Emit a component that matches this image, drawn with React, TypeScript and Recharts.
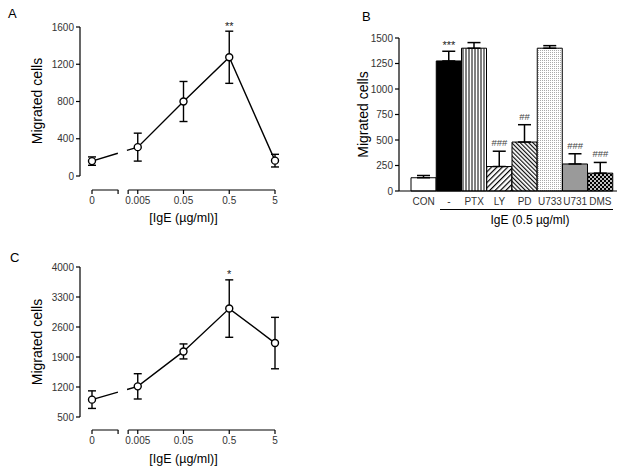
import React from 'react'
import { ComposedChart, Line, Bar, Cell, XAxis, YAxis, ErrorBar } from 'recharts'

// ─── Data ─────────────────────────────────────────────────────────────────────
const doses = ['0', '0.005', '0.05', '0.5', '5']

const migratedA = [160, 310, 800, 1275, 165]
const semA      = [45, 150, 215, 280, 68]
const marksA    = ['', '', '', '**', '']
const ticksA    = [0, 400, 800, 1200, 1600]

const treatments = ['CON', '-', 'PTX', 'LY', 'PD', 'U733', 'U731', 'DMS']
const migratedB  = [130, 1275, 1400, 240, 480, 1400, 265, 175]
const semB       = [22, 95, 55, 150, 170, 25, 100, 105]
const marksB     = ['', '***', '', '###', '##', '', '###', '###']
const ticksB     = [0, 250, 500, 750, 1000, 1250, 1500]

const migratedC = [905, 1215, 2030, 3030, 2225]
const semC      = [205, 295, 175, 670, 600]
const marksC    = ['', '', '', '*', '']
const ticksC    = [500, 1200, 1900, 2600, 3300, 4000]

// axis break on the dose axis (between 0 and 0.005)
const breakTicks = [0.57, 0.79]

// ─── Styles ───────────────────────────────────────────────────────────────────
const font = '"Liberation Sans", Arial, sans-serif'
const tickStyle = { fontSize: 10, fill: '#333' }
const barFills = ['#fff', '#000', 'url(#vlines)', 'url(#fwd)', 'url(#back)', 'url(#dots)', '#9a9a9a', 'url(#checks)']

const renderMark = (marks: string[], lift: number) => (props: any) => {
  const { x, y, index } = props
  const m = marks[index]
  if (!m) return null
  const star = m.startsWith('*')
  return (
    <text x={x} y={y - (star ? lift : lift + 3)} textAnchor="middle" fontSize={star ? 11 : 9.5} fill={star ? '#222' : '#444'}>{m}</text>
  )
}

// ─── Dose response line chart (A, C) ──────────────────────────────────────────
interface DoseProps {
  values: number[]; sem: number[]; marks: string[]; yTicks: number[]
  height: number; top: number; axisH: number; padBottom: number; yLen: number
  labelDy: number; xLabelOffset: number
}

function DoseChart({ values, sem, marks, yTicks, height, top, axisH, padBottom, yLen, labelDy, xLabelOffset }: DoseProps) {
  const data = doses.map((d, i) => ({ x: i, dose: d, mean: values[i], sem: sem[i], top: values[i] + sem[i] }))
  return (
    <ComposedChart width={320} height={height} data={data} margin={{ top, right: 45, bottom: 0, left: 20 }}>
      <XAxis
        type="number" dataKey="x" domain={[0, 4]} ticks={[0, ...breakTicks, 1, 2, 3, 4]} interval={0}
        padding={{ left: 12, right: 0 }} height={axisH}
        tickFormatter={(v: number) => (Number.isInteger(v) ? doses[v] : '')}
        tick={tickStyle} tickSize={4} tickMargin={3}
        axisLine={{ stroke: '#000', strokeWidth: 1.2, strokeDasharray: '0 12 26.3 10 400' }}
        tickLine={{ stroke: '#000', strokeWidth: 1.2 }}
        label={{ value: '[IgE (µg/ml)]', position: 'insideBottom', offset: xLabelOffset, dx: 6, fontSize: 12.5, fill: '#000' }}
      />
      <YAxis
        type="number" domain={[yTicks[0], yTicks[yTicks.length - 1]]} ticks={yTicks} interval={0}
        width={60} padding={{ top: 0, bottom: padBottom }}
        tick={tickStyle} tickSize={4} tickMargin={2}
        axisLine={{ stroke: '#000', strokeWidth: 1.2, strokeDasharray: `${yLen} 300` }}
        tickLine={{ stroke: '#000', strokeWidth: 1.2 }}
        label={{ value: 'Migrated cells', angle: -90, position: 'insideLeft', offset: 17, dy: labelDy, fontSize: 14, fill: '#000', style: { textAnchor: 'middle' } }}
      />
      <Line
        dataKey="mean" stroke="#000" strokeWidth={1.4} strokeDasharray="27 9.5 1000"
        dot={{ r: 3.5, fill: '#fff', stroke: '#000', strokeWidth: 1.4, strokeDasharray: 'none' }}
        activeDot={false} isAnimationActive={false}
      >
        <ErrorBar dataKey="sem" width={4} stroke="#000" strokeWidth={1.4} direction="y" />
      </Line>
      <Line dataKey="top" stroke="none" dot={false} activeDot={false} isAnimationActive={false} label={renderMark(marks, 1.5)} />
    </ComposedChart>
  )
}

// ─── Inhibitor bar chart (B) ──────────────────────────────────────────────────
function InhibitorChart() {
  const data = treatments.map((t, i) => ({ name: t, mean: migratedB[i], sem: [0, semB[i]], top: migratedB[i] + semB[i] }))
  return (
    <ComposedChart width={304} height={230} data={data} margin={{ top: 38, right: 17, bottom: 0, left: 14 }} barCategoryGap={0}>
      <defs>
        <pattern id="vlines" width="3" height="3" patternUnits="userSpaceOnUse">
          <rect width="3" height="3" fill="#fff" />
          <line x1="1" y1="0" x2="1" y2="3" stroke="#000" strokeWidth="1" />
        </pattern>
        <pattern id="fwd" width="3.8" height="3.8" patternUnits="userSpaceOnUse" patternTransform="rotate(45)">
          <rect width="3.8" height="3.8" fill="#fff" />
          <line x1="0.6" y1="0" x2="0.6" y2="3.8" stroke="#000" strokeWidth="1.2" />
        </pattern>
        <pattern id="back" width="3" height="3" patternUnits="userSpaceOnUse" patternTransform="rotate(-45)">
          <rect width="3" height="3" fill="#fff" />
          <line x1="0.6" y1="0" x2="0.6" y2="3" stroke="#000" strokeWidth="1.1" />
        </pattern>
        <pattern id="dots" width="2" height="2" patternUnits="userSpaceOnUse">
          <rect width="2" height="2" fill="#fff" />
          <rect width="1" height="1" fill="#aaa" />
        </pattern>
        <pattern id="checks" width="4" height="4" patternUnits="userSpaceOnUse">
          <rect width="4" height="4" fill="#000" />
          <circle cx="1" cy="1" r="1" fill="#fff" />
          <circle cx="3" cy="3" r="1" fill="#fff" />
        </pattern>
      </defs>
      <XAxis
        type="category" dataKey="name" interval={0} padding={{ left: 12, right: 4 }} height={39}
        tick={tickStyle} tickSize={4} tickMargin={3} tickLine={false}
        axisLine={{ stroke: '#000', strokeWidth: 1.2 }}
      />
      <YAxis
        type="number" domain={[0, 1500]} ticks={ticksB} interval={0} width={55}
        tick={tickStyle} tickSize={4} tickMargin={2}
        axisLine={{ stroke: '#000', strokeWidth: 1.2 }}
        tickLine={{ stroke: '#000', strokeWidth: 1.2 }}
        label={{ value: 'Migrated cells', angle: -90, position: 'insideLeft', offset: 19, fontSize: 14, fill: '#000', style: { textAnchor: 'middle' } }}
      />
      <Bar dataKey="mean" stroke="#000" strokeWidth={1} isAnimationActive={false}>
        {data.map((d, i) => <Cell key={d.name} fill={barFills[i]} />)}
        <ErrorBar dataKey="sem" width={6.5} stroke="#000" strokeWidth={1.5} direction="y" />
      </Bar>
      <Line dataKey="top" stroke="none" dot={false} activeDot={false} isAnimationActive={false} label={renderMark(marksB, 2)} />
    </ComposedChart>
  )
}

const letter = (ch: string, left: number, top: number) => (
  <div style={{ position: 'absolute', left, top, fontSize: 13, lineHeight: '13px' }}>{ch}</div>
)

export default function App() {
  return (
    <div style={{ position: 'absolute', left: 0, top: 0, width: 634, height: 473, background: '#fff', fontFamily: font, color: '#000' }}>
      {letter('A', 8, 7)}
      {letter('B', 362, 10)}
      {letter('C', 10, 251)}
      <div style={{ position: 'absolute', left: 0, top: 0 }}>
        <DoseChart values={migratedA} sem={semA} marks={marksA} yTicks={ticksA}
          height={230} top={27} axisH={40} padBottom={14} yLen={149} labelDy={-7.5} xLabelOffset={8.5} />
      </div>
      <div style={{ position: 'absolute', left: 330, top: 0 }}>
        <InhibitorChart />
      </div>
      <div style={{ position: 'absolute', left: 440, top: 209, width: 173, borderTop: '1.2px solid #000' }} />
      <div style={{ position: 'absolute', left: 440, top: 213, width: 180, textAlign: 'center', fontSize: 12 }}>IgE (0.5 µg/ml)</div>
      <div style={{ position: 'absolute', left: 0, top: 250 }}>
        <DoseChart values={migratedC} sem={semC} marks={marksC} yTicks={ticksC}
          height={223} top={17} axisH={43} padBottom={13} yLen={150} labelDy={-6.5} xLabelOffset={10.5} />
      </div>
    </div>
  )
}
